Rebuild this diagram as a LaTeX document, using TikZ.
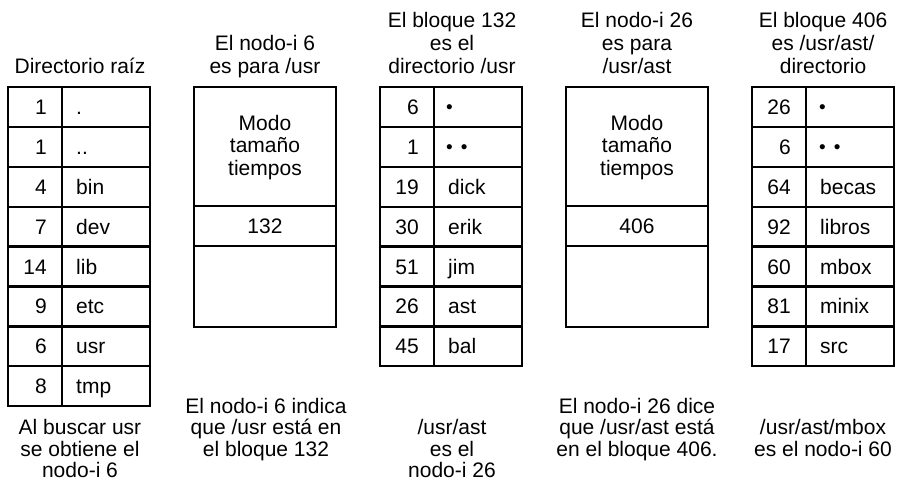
\documentclass[tikz,border=0pt]{standalone}
\usepackage{fontspec}
\setmainfont{Liberation Sans}
\newcommand{\topstrut}{\rule{0pt}{16pt}}
\begin{document}
\begin{tikzpicture}[x=1pt,y=-1pt,
  frame/.style={line width=1.9pt},
  rowrule/.style={line width=2.3pt},
  lbl/.style={inner sep=0pt, font=\fontsize{21}{23}\selectfont},
  num/.style={lbl, anchor=base east},
  nam/.style={lbl, anchor=base west},
  dotlbl/.style={inner sep=0pt, anchor=base west, font=\fontsize{19}{19}\selectfont},
  ttl/.style={inner sep=0pt, align=center, anchor=north, font=\fontsize{21}{23}\selectfont},
  capt/.style={inner sep=0pt, align=center, anchor=north, font=\fontsize{21}{21.5}\selectfont},
  boxtxt/.style={inner sep=0pt, align=center, anchor=north, font=\fontsize{21}{22.5}\selectfont},
]
\useasboundingbox (0,0) rectangle (897,484);
\def\rh{39.9}

% ---------- Column 1: root directory ----------
\draw[frame] (8,87) rectangle (150,{87+8*\rh});
\draw[frame] (62,87) -- (62,{87+8*\rh});
\foreach \i in {1,...,7} \draw[rowrule] (8,{87+\i*\rh}) -- (150,{87+\i*\rh});
\foreach \n/\t [count=\i] in {1/.,1/..,4/bin,7/dev,14/lib,9/etc,6/usr,8/tmp}{
  \node[num] (ca\i) at (47,{87+(\i-0.5)*\rh+7.5}) {\n};
  \node[nam] (cb\i) at (76,{87+(\i-0.5)*\rh+7.5}) {\t};
}
\node[ttl] (t1) at (80,57) {\topstrut Directorio raíz};
\node[capt] (b1) at (80,418.5) {\topstrut Al buscar usr\\se obtiene el\\nodo-i 6};

% ---------- Column 2: i-node 6 ----------
\draw[frame] (194,87) rectangle (336,327);
\draw[rowrule] (194,206) -- (336,206);
\draw[rowrule] (194,246) -- (336,246);
\node[boxtxt] (m2) at (265,114) {\topstrut Modo\\tamaño\\tiempos};
\node[lbl, anchor=base] (k2) at (265,233.5) {132};
\node[ttl] (t2) at (265,34) {\topstrut El nodo-i 6\\es para /usr};
\node[capt] (b2) at (266,397) {\topstrut El nodo-i 6 indica\\que /usr está en\\el bloque 132};

% ---------- Column 3: block 132 ----------
\draw[frame] (380,87) rectangle (522,{87+7*\rh});
\draw[frame] (434,87) -- (434,{87+7*\rh});
\foreach \i in {1,...,6} \draw[rowrule] (380,{87+\i*\rh}) -- (522,{87+\i*\rh});
\foreach \n [count=\i] in {6,1,19,30,51,26,45}{
  \node[num] (cc\i) at (419,{87+(\i-0.5)*\rh+7.5}) {\n};
}
\node[dotlbl] (cd1) at (446,{87+0.5*\rh+6.5}) {•};
\node[dotlbl] (cd2) at (446,{87+1.5*\rh+6.5}) {•\hspace{8pt}•};
\foreach \t [count=\j from 3] in {dick,erik,jim,ast,bal}{
  \node[nam] (cd\j) at (448,{87+(\j-0.5)*\rh+7.5}) {\t};
}
\node[ttl] (t3) at (452,11) {\topstrut El bloque 132\\es el\\directorio /usr};
\node[capt] (b3) at (452,418.5) {\topstrut /usr/ast\\es el\\nodo-i 26};

% ---------- Column 4: i-node 26 ----------
\draw[frame] (566,87) rectangle (708,327);
\draw[rowrule] (566,206) -- (708,206);
\draw[rowrule] (566,246) -- (708,246);
\node[boxtxt] (m4) at (637,114) {\topstrut Modo\\tamaño\\tiempos};
\node[lbl, anchor=base] (k4) at (637,233.5) {406};
\node[ttl] (t4) at (637,11) {\topstrut El nodo-i 26\\es para\\/usr/ast};
\node[capt] (b4) at (637,397) {\topstrut El nodo-i 26 dice\\que /usr/ast está\\en el bloque 406.};

% ---------- Column 5: block 406 ----------
\draw[frame] (752,87) rectangle (894,{87+7*\rh});
\draw[frame] (806,87) -- (806,{87+7*\rh});
\foreach \i in {1,...,6} \draw[rowrule] (752,{87+\i*\rh}) -- (894,{87+\i*\rh});
\foreach \n [count=\i] in {26,6,64,92,60,81,17}{
  \node[num] (ce\i) at (791,{87+(\i-0.5)*\rh+7.5}) {\n};
}
\node[dotlbl] (cf1) at (819,{87+0.5*\rh+6.5}) {•};
\node[dotlbl] (cf2) at (819,{87+1.5*\rh+6.5}) {•\hspace{8pt}•};
\foreach \t [count=\j from 3] in {becas,libros,mbox,minix,src}{
  \node[nam] (cf\j) at (820,{87+(\j-0.5)*\rh+7.5}) {\t};
}
\node[ttl] (t5) at (823,11) {\topstrut El bloque 406\\es /usr/ast/\\directorio};
\node[capt] (b5) at (823,418.5) {\topstrut /usr/ast/mbox\\es el nodo-i 60};
\end{tikzpicture}
\end{document}
